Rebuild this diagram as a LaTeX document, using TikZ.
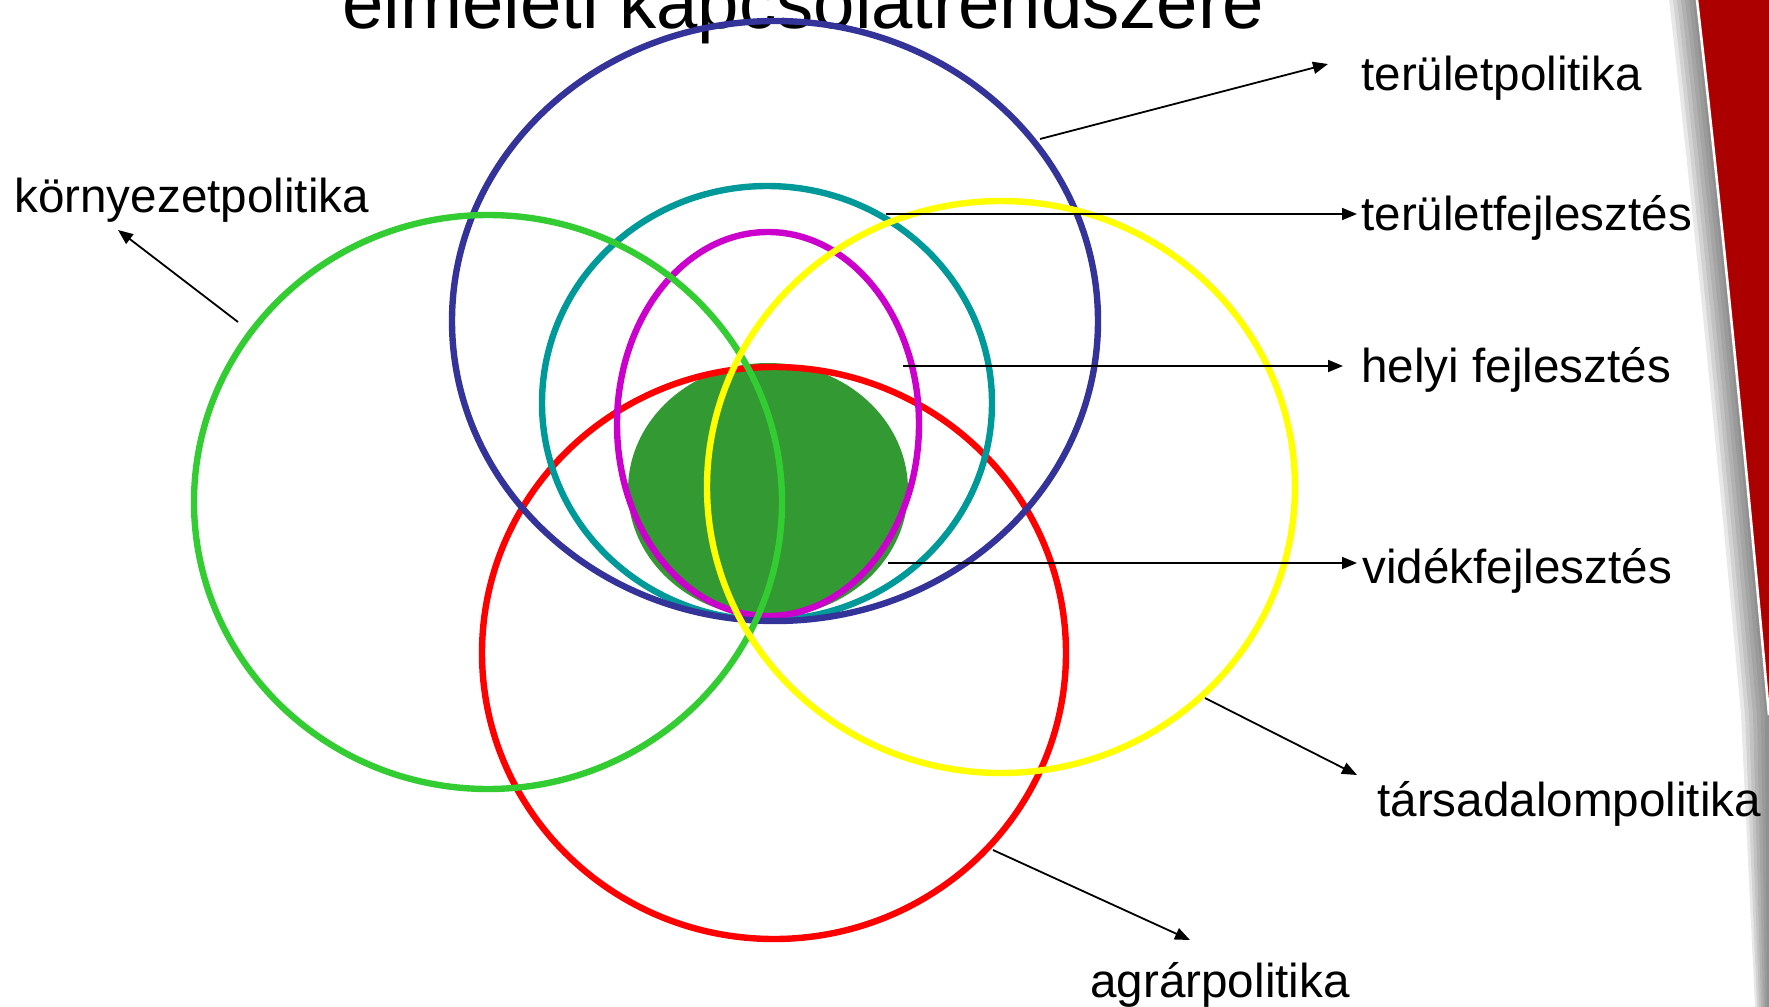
\documentclass[tikz,border=0pt]{standalone}
\usepackage{fontspec}
\setmainfont{Liberation Sans}
\usetikzlibrary{arrows.meta}

\definecolor{kek}{RGB}{51,51,153}
\definecolor{turkiz}{RGB}{0,153,153}
\definecolor{lila}{RGB}{204,0,204}
\definecolor{sotetzold}{RGB}{51,153,51}
\definecolor{zold}{RGB}{51,204,51}
\definecolor{sarga}{RGB}{255,255,0}
\definecolor{piros}{RGB}{255,0,0}
\definecolor{bordo}{RGB}{172,0,0}

\begin{document}
\begin{tikzpicture}[x=0.5pt,y=-0.5pt,
  kor/.style={line width=3.2pt},
  nyil/.style={-{Triangle[length=7.5pt,width=6pt]},line width=0.9pt},
  felirat/.style={anchor=base west,inner sep=0pt,font=\fontsize{23.8}{28}\selectfont}]
  \useasboundingbox (0,0) rectangle (1769,1007);
  % cim, felul levagva
  \node[anchor=base west,inner sep=0pt,font=\fontsize{37.2}{44}\selectfont] (cim) at (342,28) {elméleti kapcsolatrendszere};
  % sav a jobb szelen
  \foreach \s in {4,8,...,28}
    \fill[gray!60!black,opacity=0.13] (1697-\s,0) .. controls (1720-\s,200) and (1745-\s,450) .. (1769-\s,715)
      -- (1769-0.5*\s,1007) -- (1769,1007) -- (1769,715) .. controls (1745,450) and (1720,200) .. (1697,0) -- cycle;
  \fill[bordo] (1697,0) .. controls (1720,200) and (1745,450) .. (1769,715) -- (1769,0) -- cycle;
  \draw[white,line width=1.3pt] (1697,0) .. controls (1720,200) and (1745,450) .. (1769,715);

  % korok kozeppontjai
  \coordinate (kTP) at (775,321);
  \coordinate (kTF) at (767,403);
  \coordinate (kHF) at (768,424);
  \coordinate (kVF) at (768,490);
  \coordinate (kKP) at (488,502);
  \coordinate (kTSP) at (1001,487);
  \coordinate (kAP) at (774,653);

  \fill[sotetzold] (kVF) ellipse [x radius=140, y radius=127];
  \draw[kor,piros] (kAP) ellipse [x radius=292, y radius=286];
  \draw[kor,turkiz] (kTF) ellipse [x radius=225, y radius=217];
  \draw[kor,lila] (kHF) ellipse [x radius=151, y radius=192];
  \draw[kor,kek] (kTP) ellipse [x radius=323, y radius=300];
  \draw[kor,zold] (kKP) ellipse [x radius=294, y radius=287];
  \draw[kor,sarga] (kTSP) ellipse [x radius=294, y radius=286];

  % feliratok
  \node[felirat] (tp) at (1361,90) {területpolitika};
  \node[felirat] (tf) at (1361,230) {területfejlesztés};
  \node[felirat] (hf) at (1361,382) {helyi fejlesztés};
  \node[felirat] (vf) at (1362,583) {vidékfejlesztés};
  \node[felirat] (tsp) at (1377,816) {társadalompolitika};
  \node[felirat] (ap) at (1090,997) {agrárpolitika};
  \node[felirat] (kp) at (14,212) {környezetpolitika};

  % nyilak
  \coordinate (tpA) at (1040,139);   \coordinate (tpB) at (1328,64);
  \coordinate (tfA) at (886,214);    \coordinate (tfB) at (1357,214);
  \coordinate (hfA) at (903,366);    \coordinate (hfB) at (1343,366);
  \coordinate (vfA) at (888,563);    \coordinate (vfB) at (1357,563);
  \coordinate (tspA) at (1205,698);  \coordinate (tspB) at (1357,775);
  \coordinate (apA) at (993,850);    \coordinate (apB) at (1190,940);
  \coordinate (kpA) at (238,322);    \coordinate (kpB) at (118,230);
  \draw[nyil] (tpA) -- (tpB);
  \draw[nyil] (tfA) -- (tfB);
  \draw[nyil] (hfA) -- (hfB);
  \draw[nyil] (vfA) -- (vfB);
  \draw[nyil] (tspA) -- (tspB);
  \draw[nyil] (apA) -- (apB);
  \draw[nyil] (kpA) -- (kpB);
\end{tikzpicture}
\end{document}
